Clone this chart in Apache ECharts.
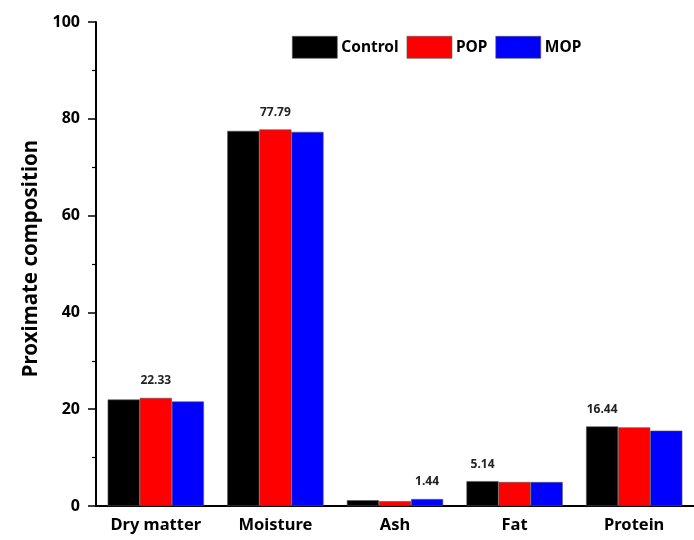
<!DOCTYPE html>
<html><head><meta charset="utf-8">
<script src="https://cdn.jsdelivr.net/npm/echarts@6/dist/echarts.min.js"></script>
<style>html,body{margin:0;padding:0;background:#fff}#c{width:694px;height:540px}</style>
</head><body><div id="c"></div>
<script>
const categories = ['Dry matter', 'Moisture', 'Ash', 'Fat', 'Protein'];
const controlValues = [22.0, 77.5, 1.2, 5.14, 16.44];
const popValues = [22.33, 77.79, 1.0, 4.95, 16.25];
const mopValues = [21.6, 77.3, 1.44, 4.95, 15.57];
const controlLabelled = [3, 4];
const popLabelled = [0, 1];
const mopLabelled = [2];
const yTicks = [0, 20, 40, 60, 80, 100];

const FONT = '"Noto Sans", "Open Sans", sans-serif';
function mkData(vals, labelled) {
  return vals.map((v, i) => labelled.indexOf(i) >= 0
    ? { value: v, label: { show: true } }
    : { value: v });
}
function mkSeries(name, vals, labelled, color) {
  return {
    name: name, type: 'bar', xAxisIndex: 0,
    data: mkData(vals, labelled),
    barGap: '0%', barCategoryGap: '19.5%',
    itemStyle: { color: color, borderColor: '#555', borderWidth: 0.6 },
    label: { show: false, position: 'top', distance: 11, fontFamily: FONT,
      fontWeight: 'bold', fontSize: 12, color: '#222',
      formatter: p => p.value.toFixed(2) }
  };
}
const chart = echarts.init(document.getElementById('c'));
chart.setOption({
  animation: false,
  grid: { left: 96, right: 0, top: 22, bottom: 34 },
  legend: {
    top: 31, left: 287, itemWidth: 45, itemHeight: 22, itemGap: 8,
    icon: 'rect',
    textStyle: { fontFamily: FONT, fontWeight: 'bold', fontSize: 15.5, color: '#000', padding: [0,0,0,-1] },
    itemStyle: { borderColor: '#555', borderWidth: 0.6 },
    data: ['Control', 'POP', 'MOP']
  },
  xAxis: [{
    type: 'category', data: categories, position: 'bottom',
    axisLine: { lineStyle: { color: '#000', width: 2 } },
    axisTick: { alignWithLabel: true, interval: 0, length: 8, lineStyle: { color: '#000', width: 1.5 } },
    axisLabel: { interval: 0, hideOverlap: false, fontFamily: FONT, fontWeight: 'bold', fontSize: 16.5, color: '#000', margin: 11 }
  }, {
    type: 'category', data: categories, position: 'bottom',
    axisLine: { show: false },
    axisTick: { alignWithLabel: false, interval: 0, length: 5, lineStyle: { color: '#000', width: 1.2 } },
    axisLabel: { show: false }
  }],
  yAxis: {
    type: 'value', min: yTicks[0], max: yTicks[yTicks.length - 1], interval: 20,
    name: 'Proximate composition', nameLocation: 'middle', nameGap: 54,
    nameTextStyle: { fontFamily: FONT, fontWeight: 'bold', fontSize: 20.5, color: '#000', padding: [0, 0, 0, 11] },
    axisLine: { show: true, lineStyle: { color: '#000', width: 2 } },
    axisTick: { show: true, length: 8, lineStyle: { color: '#000', width: 1.5 } },
    minorTick: { show: true, splitNumber: 2, length: 4, lineStyle: { color: '#000', width: 1.2 } },
    splitLine: { show: false },
    axisLabel: { fontFamily: FONT, fontWeight: 'bold', fontSize: 16, color: '#000', margin: 16 }
  },
  series: [
    mkSeries('Control', controlValues, controlLabelled, '#000000'),
    mkSeries('POP', popValues, popLabelled, '#ff0000'),
    mkSeries('MOP', mopValues, mopLabelled, '#0000ff')
  ]
});
</script></body></html>
